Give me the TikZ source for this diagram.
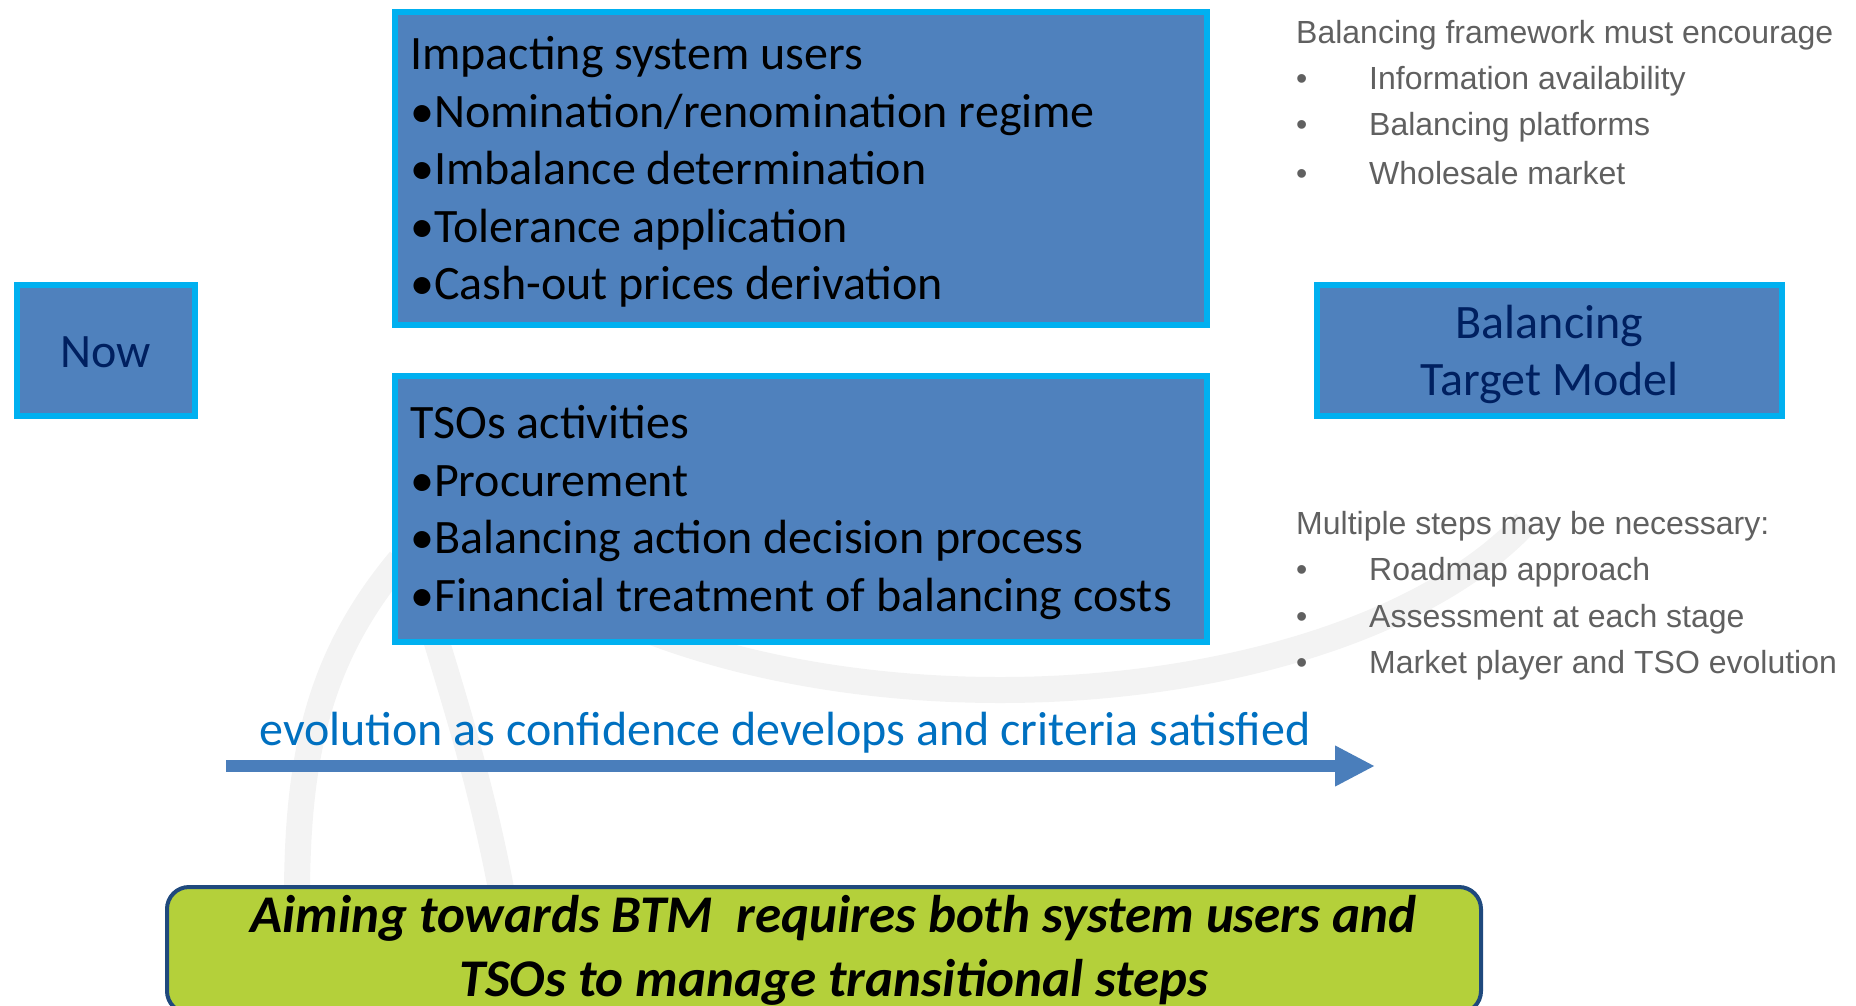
\documentclass[tikz,border=0pt]{standalone}
\usepackage{fontspec}
\setmainfont{Carlito}
\newfontfamily\arialfont{Liberation Sans}
\usepackage{tikz}
\usetikzlibrary{shapes,arrows,arrows.meta,positioning}

\definecolor{boxfill}{RGB}{79,129,189}
\definecolor{boxline}{RGB}{0,176,240}
\definecolor{navytext}{RGB}{0,32,96}
\definecolor{notegrey}{RGB}{96,96,96}
\definecolor{evoblue}{RGB}{0,112,192}
\definecolor{arrowblue}{RGB}{74,126,187}
\definecolor{aimgreen}{RGB}{180,208,58}
\definecolor{aimline}{RGB}{31,73,125}
\definecolor{watermark}{RGB}{243,243,243}

\newcommand{\slidefont}{\fontsize{48}{57.5}\selectfont}
\newcommand{\notefont}{\fontsize{32}{46}\selectfont}
\newcommand{\punchfont}{\fontsize{53}{64}\selectfont}

\begin{document}
\begin{tikzpicture}[x=1pt, y=-1pt,
    bluebox/.style={draw=boxline, fill=boxfill, line width=6pt, inner sep=0pt},
    boxtext/.style={inner sep=0pt, font=\slidefont},
    listtext/.style={boxtext, text width=790pt, align=flush left},
    note/.style={anchor=west, inner sep=0pt, text=notegrey, font=\arialfont\notefont},
    bullet/.style={note, execute at begin node={\makebox[73pt][l]{\textbullet}}}]
    \useasboundingbox (0,0) rectangle (1856,1005);

    % watermark
    \begin{scope}
      \clip (0,0) rectangle (1856,1005);
      \draw[watermark, line width=26pt] (420,400) arc[start angle=180, end angle=25, x radius=580, y radius=290];
      \draw[watermark, line width=26pt] (400,560) .. controls (300,680) and (290,800) .. (300,1010);
      \draw[watermark, line width=26pt] (430,620) .. controls (470,750) and (500,850) .. (520,1010);
    \end{scope}

    % boxes
    \node[bluebox, minimum width=178pt, minimum height=131pt] (now) at (106,350.5) {};
    \node[boxtext, text=navytext] (nowtext) at ([yshift=-2pt]now.center) {Now};
    \node[bluebox, minimum width=812pt, minimum height=313pt] (users) at (801,168.5) {};
    \node[listtext, anchor=west] (userstext) at ([xshift=18pt, yshift=-3.5pt]users.west) {Impacting system users\\
      \textbullet Nomination/renomination regime\\
      \textbullet Imbalance determination\\
      \textbullet Tolerance application\\
      \textbullet Cash-out prices derivation};
    \node[bluebox, minimum width=812pt, minimum height=266pt] (tsos) at (801,509) {};
    \node[listtext, anchor=west] (tsostext) at ([xshift=18pt, yshift=-3.5pt]tsos.west) {TSOs activities\\
      \textbullet Procurement\\
      \textbullet Balancing action decision process\\
      \textbullet Financial treatment of balancing costs};
    \node[bluebox, minimum width=465pt, minimum height=131pt] (btm) at (1549.5,350.5) {};
    \node[boxtext, text=navytext, align=center] (btmtext) at ([yshift=-4pt]btm.center) {Balancing\\Target Model};

    % notes
    \node[note] (encourage) at (1296,35.5) {Balancing framework must encourage};
    \foreach \y/\txt [count=\i] in {81.5/Information availability, 127.5/Balancing platforms, 173.5/Wholesale market}
      \node[bullet] (encourage\i) at (1296,\y) {\txt};
    \node[note] (steps) at (1296,526.5) {Multiple steps may be necessary:};
    \foreach \y/\txt [count=\i] in {572.5/Roadmap approach, 619.5/Assessment at each stage, 665.5/Market player and TSO evolution}
      \node[bullet] (steps\i) at (1296,\y) {\txt};

    % evolution arrow
    \coordinate (evostart) at (226,766);
    \coordinate (evoend) at (1375,766);
    \draw[arrowblue, line width=12pt, -{Triangle[length=40pt, width=38pt]}] (evostart) -- (evoend);
    \node[boxtext, text=evoblue] (evo) at (785,732.5) {evolution as confidence develops and criteria satisfied};

    % conclusion
    \node[draw=aimline, fill=aimgreen, line width=4pt, rounded corners=22pt, minimum width=1314pt, minimum height=126pt] (aim) at (824,950) {};
    \node[align=center, inner sep=0pt, font=\punchfont\bfseries\itshape] (aimtext) at ([xshift=9.5pt]aim.center) {Aiming towards BTM\ \ requires both system users and\\TSOs to manage transitional steps};
\end{tikzpicture}
\end{document}
